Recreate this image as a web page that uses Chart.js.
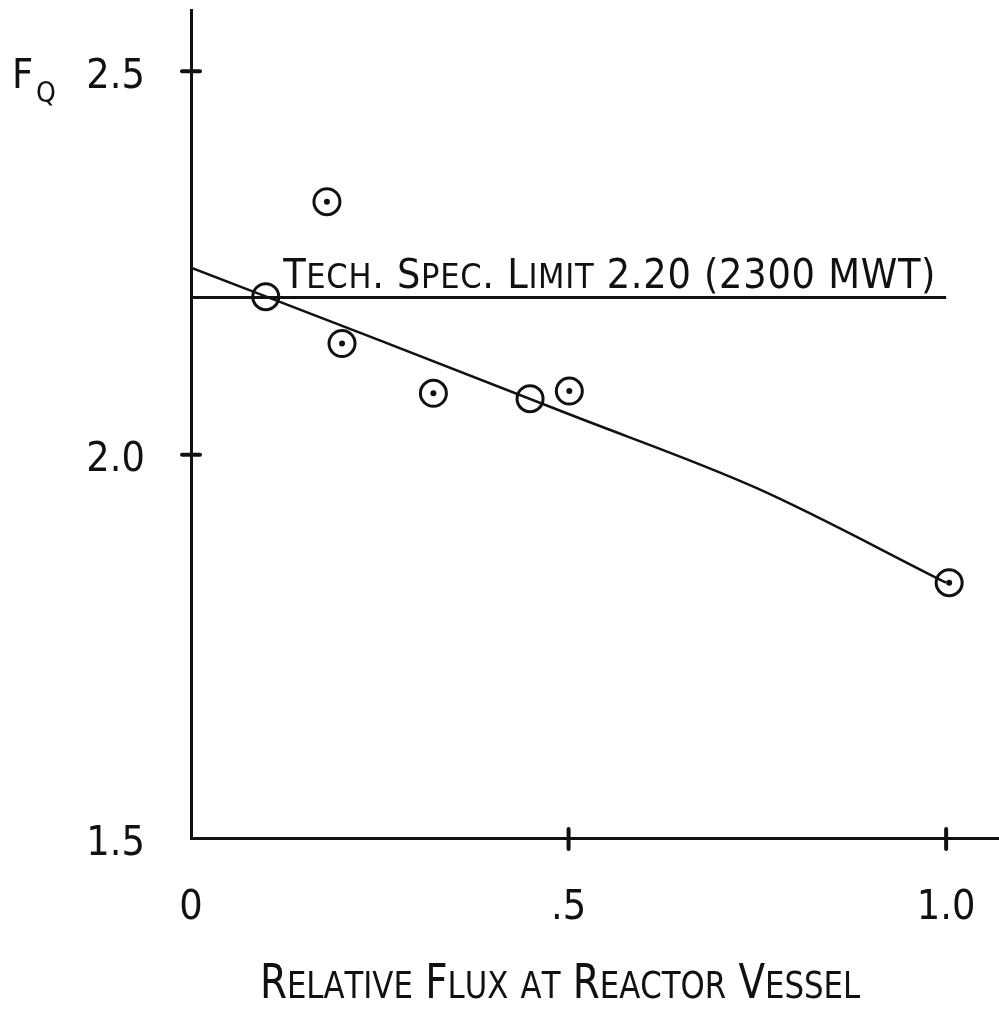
<!DOCTYPE html>
<html>
<head>
<meta charset="utf-8">
<script src="https://cdn.jsdelivr.net/npm/chart.js@4.4.1/dist/chart.umd.min.js"></script>
<style>
  html, body { margin: 0; padding: 0; background: #fff; }
  #wrap { width: 999px; height: 1022px; }
</style>
</head>
<body>
<div id="wrap"><canvas id="fqChart" width="999" height="1022"></canvas></div>
<script>
// measured points
const fluxValues = [0.099, 0.180, 0.200, 0.321, 0.449, 0.501, 1.004];
const fqValues   = [2.206, 2.330, 2.145, 2.080, 2.073, 2.083, 1.833];
const hasDot     = [false, true, true, true, false, true, true];

// hand drawn fit curve
const fitFlux = [0, 0.25, 0.5, 0.75, 1.0];
const fitFq   = [2.244, 2.149, 2.053, 1.956, 1.833];

// tech spec limit line
const limitFq = 2.205;
const limitFlux = [0, 1.0];
const limitText = 'Tech. Spec. Limit 2.20 (2300 MWT)';

// axes
const xTicks = [0, 0.5, 1.0];
const xTickLabels = ['0', '.5', '1.0'];
const yTicks = [1.5, 2.0, 2.5];
const yTickLabels = ['1.5', '2.0', '2.5'];
const xMarks = [0.5, 1.0];
const yMarks = [2.0, 2.5];
const xTitle = 'Relative Flux at Reactor Vessel';
const yTitle = 'F';
const ySub = 'Q';

const FONT = '"DejaVu Sans Condensed", "DejaVu Sans", sans-serif';
const INK = '#111';

// small caps by hand: lowercase letters get drawn as smaller capitals
function drawCaps(ctx, text, x, y, big, small, spacing, squeeze, align) {
  const parts = [];
  let w = 0;
  for (const ch of text) {
    const lower = ch !== ch.toUpperCase();
    const p = { ch: ch.toUpperCase(), size: lower ? small : big };
    ctx.font = p.size + 'px ' + FONT;
    p.w = ctx.measureText(p.ch).width;
    w += p.w + spacing;
    parts.push(p);
  }
  w -= spacing;
  const left = align === 'center' ? x - w * squeeze / 2 : x;
  ctx.save();
  ctx.translate(left, y);
  ctx.scale(squeeze, 1);
  ctx.textAlign = 'left';
  ctx.textBaseline = 'alphabetic';
  let cx = 0;
  parts.forEach(p => {
    ctx.font = p.size + 'px ' + FONT;
    ctx.fillText(p.ch, cx, 0);
    cx += p.w + spacing;
  });
  ctx.restore();
}

// keep the plot area where the drawing has it, labels may hang over
function noPadding(s) {
  s.paddingLeft = 0;
  s.paddingRight = 0;
  s.paddingTop = 0;
  s.paddingBottom = 0;
}

const sketchPlugin = {
  id: 'sketch',
  afterDraw(chart) {
    const { ctx, chartArea } = chart;
    const x = chart.scales.x, y = chart.scales.y;
    ctx.save();
    ctx.strokeStyle = INK;
    ctx.fillStyle = INK;
    ctx.lineWidth = 4;
    ctx.lineCap = 'round';
    // little cross marks on the axes
    yMarks.forEach(v => {
      const py = y.getPixelForValue(v);
      ctx.beginPath();
      ctx.moveTo(chartArea.left - 9, py);
      ctx.lineTo(chartArea.left + 9, py);
      ctx.stroke();
    });
    xMarks.forEach(v => {
      const px = x.getPixelForValue(v);
      ctx.beginPath();
      ctx.moveTo(px, chartArea.bottom - 9);
      ctx.lineTo(px, chartArea.bottom + 11);
      ctx.stroke();
    });

    // F_Q next to the 2.5 label
    const top = y.getPixelForValue(2.5);
    ctx.textAlign = 'left';
    ctx.textBaseline = 'alphabetic';
    ctx.font = '41px ' + FONT;
    ctx.fillText(yTitle, 12, top + 17);
    ctx.font = '28px ' + FONT;
    ctx.fillText(ySub, 36, top + 31);

    // limit label above the line
    drawCaps(ctx, limitText, x.getPixelForValue(0.122), y.getPixelForValue(limitFq) - 10, 41, 34, 0.7, 1, 'left');

    // x axis title
    drawCaps(ctx, xTitle, 560, chartArea.bottom + 160, 48, 38, 0, 0.9, 'center');
    ctx.restore();
  }
};

const ctx = document.getElementById('fqChart').getContext('2d');
const fqChart = new Chart(ctx, {
  type: 'scatter',
  data: {
    datasets: [
      {
        label: 'Limit',
        data: limitFlux.map(v => ({ x: v, y: limitFq })),
        showLine: true,
        borderColor: INK,
        borderWidth: 3,
        pointRadius: 0
      },
      {
        label: 'Fit',
        data: fitFlux.map((v, i) => ({ x: v, y: fitFq[i] })),
        showLine: true,
        borderColor: INK,
        borderWidth: 2.5,
        tension: 0.4,
        cubicInterpolationMode: 'monotone',
        pointRadius: 0
      },
      {
        label: 'Measured',
        data: fluxValues.map((v, i) => ({ x: v, y: fqValues[i] })),
        borderColor: INK,
        backgroundColor: 'rgba(0,0,0,0)',
        borderWidth: 3,
        pointRadius: 13,
        pointHoverRadius: 13
      },
      {
        label: 'Centre',
        data: fluxValues.map((v, i) => ({ x: v, y: fqValues[i] })),
        borderColor: INK,
        backgroundColor: INK,
        borderWidth: 0,
        pointRadius: hasDot.map(d => d ? 3 : 0)
      }
    ]
  },
  options: {
    responsive: false,
    animation: false,
    devicePixelRatio: 1,
    layout: { autoPadding: false, padding: { top: 10, right: 0, left: 0, bottom: 0 } },
    plugins: {
      legend: { display: false },
      tooltip: { enabled: false }
    },
    scales: {
      x: {
        type: 'linear',
        min: 0,
        max: 1.07,
        afterFit: s => { s.height = 184; noPadding(s); },
        afterBuildTicks: s => { s.ticks = xTicks.map(v => ({ value: v })); },
        grid: { display: false, drawTicks: false },
        border: { display: true, color: INK, width: 3 },
        ticks: {
          padding: 46,
          color: INK,
          font: { family: FONT, size: 41 },
          callback: v => xTickLabels[xTicks.indexOf(v)]
        }
      },
      y: {
        type: 'linear',
        min: 1.5,
        max: 2.58,
        afterFit: s => { s.width = 191; noPadding(s); },
        afterBuildTicks: s => { s.ticks = yTicks.map(v => ({ value: v })); },
        grid: { display: false, drawTicks: false },
        border: { display: true, color: INK, width: 3 },
        ticks: {
          padding: 46,
          labelOffset: 6,
          color: INK,
          font: { family: FONT, size: 41 },
          callback: v => yTickLabels[yTicks.indexOf(v)]
        }
      }
    }
  },
  plugins: [sketchPlugin]
});
</script>
</body>
</html>
